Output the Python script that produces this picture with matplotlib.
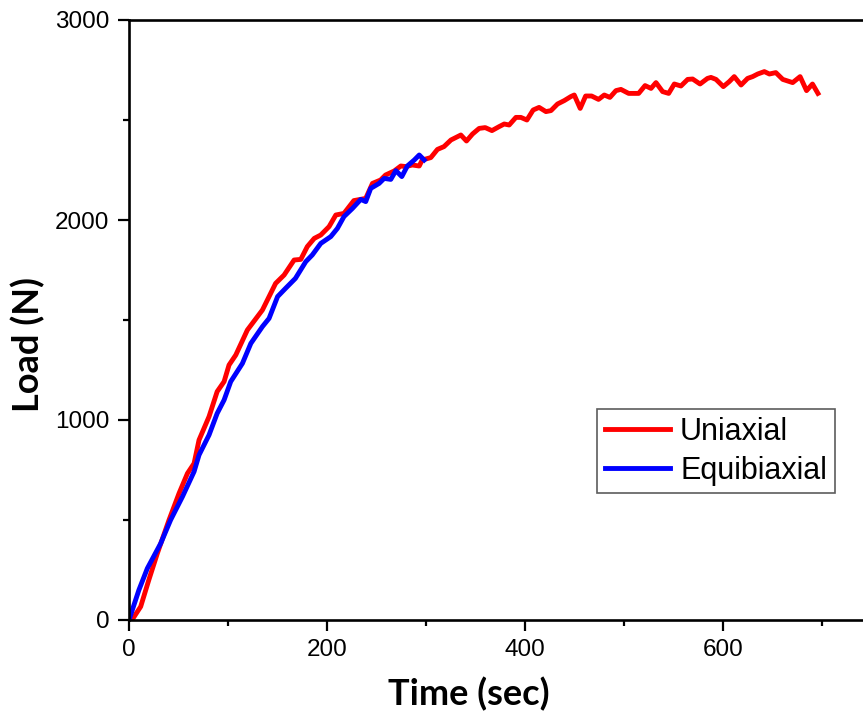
import matplotlib
matplotlib.use("Agg")
import matplotlib.pyplot as plt
from matplotlib.ticker import MultipleLocator

# Load vs time for the two test modes
uni_time = [3, 11.8, 20, 28.6, 40.4, 50.5, 59, 65.7, 70.7, 80.8, 89, 96, 101, 107.8,
            119.5, 134.7, 148, 156.6, 166.7, 173.4, 180, 187, 193.6, 202, 208.8, 217,
            227, 239, 245.8, 254, 259, 267.7, 274.4, 279.5, 286, 293, 296, 304.7, 311.4,
            318, 325, 335, 340.7, 346.8, 353.5, 359.6, 366.4, 373.7, 378.8, 383.8, 390.6,
            395.6, 401.7, 408, 414, 420.9, 426, 432.6, 439.4, 446, 449.5, 455.5, 461, 467,
            474, 479.8, 485.5, 491.6, 496.6, 504.4, 514.5, 521, 527, 532, 538.7, 544.8,
            550.5, 557.2, 564, 569, 576.5, 584, 587.5, 592.6, 600, 606, 611, 617.9, 624.5,
            629.6, 634.7, 641.4, 646.5, 653, 660, 670, 677.5, 684, 690, 695.5]
uni_load = [0, 67, 200, 333, 500, 633, 733, 783, 900, 1017, 1142, 1192, 1275, 1325,
            1450, 1550, 1683, 1725, 1800, 1803, 1867, 1908, 1925, 1967, 2025, 2033,
            2097, 2108, 2183, 2200, 2225, 2245, 2270, 2267, 2275, 2270, 2300, 2312, 2353,
            2367, 2400, 2425, 2395, 2430, 2458, 2462, 2447, 2467, 2480, 2475, 2513,
            2513, 2500, 2550, 2563, 2542, 2547, 2580, 2597, 2617, 2625, 2558, 2620, 2620,
            2603, 2625, 2613, 2647, 2653, 2633, 2633, 2672, 2658, 2687, 2642, 2633,
            2680, 2670, 2703, 2705, 2680, 2708, 2713, 2703, 2667, 2692, 2717, 2675, 2708,
            2717, 2730, 2742, 2730, 2737, 2703, 2687, 2717, 2647, 2680, 2633]

equi_time = [0, 10, 18.5, 32, 42, 54, 65.7, 70.7, 80.8, 89, 96, 102.7, 114.5, 123,
             134.7, 141.4, 150, 158, 168, 178.5, 185, 193.6, 203.7, 210.4, 217, 225.6,
             234, 239, 244, 252.5, 257.6, 264.3, 269.4, 275.4, 281, 288, 293, 298]
equi_load = [0, 150, 258, 383, 500, 617, 742, 825, 925, 1033, 1100, 1192, 1283, 1383,
             1467, 1508, 1617, 1658, 1708, 1792, 1825, 1883, 1917, 1958, 2017, 2058,
             2103, 2092, 2158, 2183, 2208, 2203, 2247, 2217, 2270, 2300, 2325, 2300]

series_names = ["Uniaxial", "Equibiaxial"]
x_ticks = [0, 200, 400, 600]
y_ticks = [0, 1000, 2000, 3000]

fig = plt.figure(figsize=(8.63, 7.11), dpi=100)
ax = fig.add_axes([129 / 863, 91 / 711, 734 / 863, 600 / 711])

ax.plot(uni_time, uni_load, color="#ff0000", lw=3.5, label=series_names[0],
        solid_joinstyle="round")
ax.plot(equi_time, equi_load, color="#0000ff", lw=3.5, label=series_names[1],
        solid_joinstyle="round")

ax.set_xlim(0, 741)
ax.set_ylim(0, 3000)
ax.set_xticks(x_ticks)
ax.set_yticks(y_ticks)
ax.xaxis.set_minor_locator(MultipleLocator(100))
ax.yaxis.set_minor_locator(MultipleLocator(500))

for s in ["left", "bottom", "top"]:
    ax.spines[s].set_linewidth(1.9)
ax.spines["right"].set_visible(False)

ax.tick_params(which="major", direction="out", length=8, width=1.6, pad=6,
               labelsize=17.5, top=False, right=False)
ax.tick_params(which="minor", direction="out", length=4, width=1.6,
               top=False, right=False)
for lab in ax.get_xticklabels() + ax.get_yticklabels():
    lab.set_fontfamily("Liberation Sans")

ax.set_xlabel("Time (sec)", fontsize=26, fontweight="bold", family="Lato")
ax.set_ylabel("Load (N)", fontsize=26, fontweight="bold", family="Lato")
ax.xaxis.set_label_coords((469 - 129) / 734, -0.095)
ax.yaxis.set_label_coords(-0.114, 0.46)

leg = ax.legend(loc="upper left", bbox_to_anchor=((597 - 129) / 734, (620 - 409) / 600),
                prop={"family": "Liberation Sans", "size": 22}, frameon=True,
                fancybox=False, edgecolor="#333333", handlelength=2.15,
                handletextpad=0.32, labelspacing=0.3, borderpad=0.25,
                borderaxespad=0)
leg.get_frame().set_linewidth(1.2)

fig.savefig("out.png", dpi=100)
